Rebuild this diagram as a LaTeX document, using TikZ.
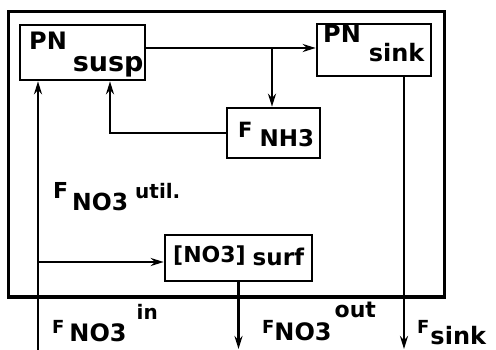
\documentclass[tikz,border=0pt]{standalone}
\usepackage{fontspec}
\setmainfont{DejaVu Sans}
\usetikzlibrary{arrows.meta}
\newcommand\fsz[1]{\fontsize{#1pt}{#1pt}\selectfont}
\begin{document}
\begin{tikzpicture}[x=1pt,y=-1pt,
  box/.style={draw,line width=2.6pt,inner sep=0pt},
  flow/.style={line width=2.6pt,-{Stealth[length=13pt,width=8pt]}},
  txt/.style={anchor=base west,inner sep=0pt,font=\bfseries}]
\useasboundingbox (0,0) rectangle (496,350);
% boxes
\node[draw,line width=3pt,inner sep=0pt,minimum width=436pt,minimum height=285pt] (outer) at (226,154.5) {};
\node[box,minimum width=125pt,minimum height=55pt] (susp) at (82.5,52.5) {};
\node[box,minimum width=114pt,minimum height=52pt] (sink) at (374,50) {};
\node[box,minimum width=93pt,minimum height=50pt] (nh3) at (273.5,133) {};
\node[box,minimum width=147pt,minimum height=46pt] (surf) at (238.5,258) {};
% texts in boxes
\node[txt] (tsusp) at (29,50) {\fsz{24}PN\hspace{6pt}\raisebox{-22pt}{\fsz{27}susp}};
\node[txt] (tsink) at (323,43) {\fsz{24}PN\hspace{8pt}\raisebox{-19pt}{\fsz{24}sink}};
\node[txt] (tnh3) at (238,138) {\fsz{21}F\hspace{7pt}\raisebox{-9pt}{\fsz{23}NH3}};
\node[txt] (tsurf) at (173,262) {\fsz{22}[NO3]\hspace{7pt}\raisebox{-3pt}{\fsz{23}surf}};
% flow labels
\node[txt] (lutil) at (53,199) {\fsz{22}F\hspace{4pt}\raisebox{-12pt}{\fsz{23.5}NO3}\hspace{7pt}\fsz{20}util.};
\node[txt] (lin) at (52,334) {\fsz{18}F\hspace{5pt}\raisebox{-8pt}{\fsz{24}NO3}\hspace{10pt}\raisebox{14pt}{\fsz{20}in}};
\node[txt] (lout) at (262,333) {\fsz{18}F\raisebox{-7pt}{\fsz{24}NO3}\hspace{3pt}\raisebox{16pt}{\fsz{22}out}};
\node[txt] (lsink) at (417,333) {\fsz{18}F\hspace{1pt}\raisebox{-11pt}{\fsz{24}sink}};
% coordinates
\coordinate (j) at (272,48);
\coordinate (c1) at (110,133);
\coordinate (inB) at (38,350);
\coordinate (br) at (38,262);
\coordinate (bot) at (0,349);
\coordinate (sk) at (404,0);
% connectors
\draw[flow] (susp.east |- j) -- (sink.west |- j);
\draw[flow] (j) -- (j |- nh3.north);
\draw[flow] (nh3.west) -| (c1 |- susp.south);
\draw[flow] (inB) -- (inB |- susp.south);
\draw[flow] (br) -- (surf.west |- br);
\draw[flow] (surf.south) -- (surf.south |- bot);
\draw[flow] (sk |- sink.south) -- (sk |- bot);
\end{tikzpicture}
\end{document}
